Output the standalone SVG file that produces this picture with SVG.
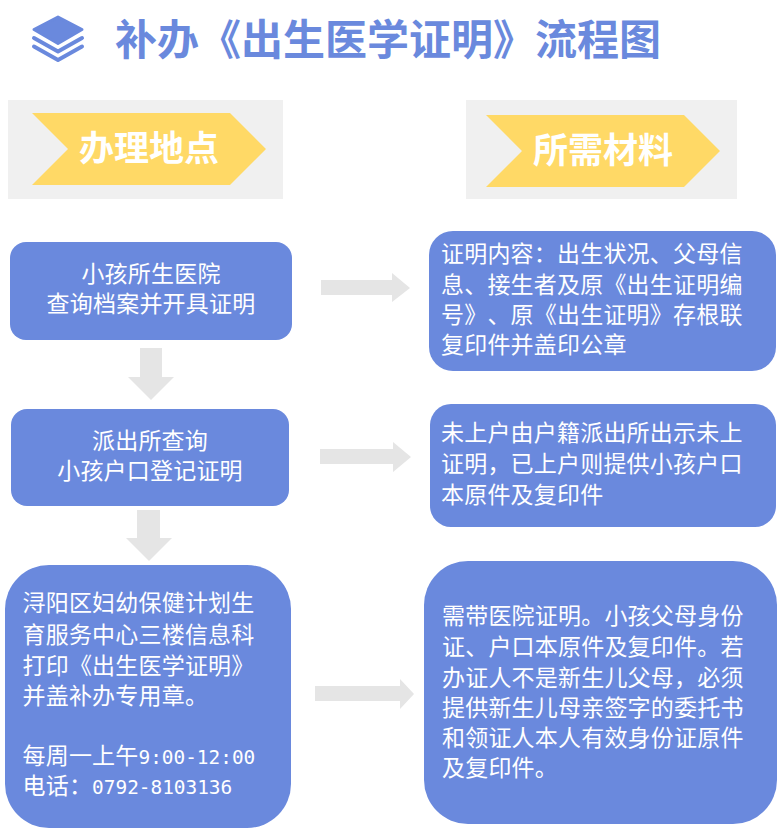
<svg xmlns="http://www.w3.org/2000/svg" width="782" height="834" viewBox="0 0 782 834">
<style>
text{font-family:"Noto Sans CJK SC","Noto Sans CJK JP",sans-serif;text-spacing-trim:space-all;font-kerning:none;}
.box{fill:#6a89dd;}
.t{font-size:23px;fill:#fff;letter-spacing:.2px;}
.c{text-anchor:middle;}
.d{font-family:"DejaVu Sans Mono",monospace;font-size:19.4px;letter-spacing:0;}
.h{font-size:35px;font-weight:700;fill:#fff;text-anchor:middle;}
.panel{fill:#f0f0f0;}
.tag{fill:#ffd966;}
.arrow{fill:#e5e5e5;}
.title{font-size:42px;font-weight:700;fill:#6a89dd;}
.icon{fill:#6a89dd;stroke:#6a89dd;stroke-width:3;stroke-linejoin:round;}
.band{fill:none;stroke:#6a89dd;stroke-width:4;stroke-linecap:round;stroke-linejoin:round;}
</style>
<g id="title">
<path class="icon" d="M58 17 L82 29.500 L58 43.500 L34 29.500Z"/>
<path class="band" d="M34 38 L58 51.500 L82 38"/>
<path class="band" d="M34 46.500 L58 60 L82 46.500"/>
<text class="title" x="115" y="55">补办《出生医学证明》流程图</text>
</g>
<g id="place-header">
<rect class="panel" x="8" y="100" width="275" height="99"/>
<polygon class="tag" points="32,113 230,113 266,149 230,185 32,185 68,149"/>
<text class="h" x="149" y="161">办理地点</text>
</g>
<g id="material-header">
<rect class="panel" x="466" y="100" width="271" height="99"/>
<polygon class="tag" points="486,115 684,115 720,151 684,187 486,187 522,151"/>
<text class="h" x="603" y="163">所需材料</text>
</g>
<g id="connectors">
<polygon class="arrow" points="321,280 392,280 392,273 410,288 392,302 392,295 321,295"/>
<polygon class="arrow" points="320,449 393,449 393,442 411,457 393,472 393,464 320,464"/>
<polygon class="arrow" points="315,686 400,686 400,679 414,694 400,709 400,701 315,701"/>
<polygon class="arrow" points="140,348 162,348 162,377 174,377 151,400 128,377 140,377"/>
<polygon class="arrow" points="137,510 160,510 160,538 172,538 149,561 126,538 137,538"/>
</g>
<g id="hospital">
<rect class="box" x="10" y="242" width="282" height="98" rx="16"/>
<text class="t c" x="151" y="282">小孩所生医院</text>
<text class="t c" x="151" y="312">查询档案并开具证明</text>
</g>
<g id="police">
<rect class="box" x="11" y="409" width="278" height="97" rx="16"/>
<text class="t c" x="150" y="449">派出所查询</text>
<text class="t c" x="150" y="479">小孩户口登记证明</text>
</g>
<g id="center">
<rect class="box" x="5" y="565" width="286" height="263" rx="44"/>
<text class="t" x="22.500" y="611">浔阳区妇幼保健计划生</text>
<text class="t" x="22.500" y="643">育服务中心三楼信息科</text>
<text class="t" x="22.500" y="674">打印《出生医学证明》</text>
<text class="t" x="22.500" y="704">并盖补办专用章。</text>
<text class="t" x="22.500" y="764">每周一上午<tspan class="d">9:00-12:00</tspan></text>
<text class="t" x="22.500" y="794">电话：<tspan class="d">0792-8103136</tspan></text>
</g>
<g id="material-hospital">
<rect class="box" x="429" y="231" width="347" height="140" rx="24"/>
<text class="t" x="441" y="262">证明内容：出生状况、父母信</text>
<text class="t" x="441" y="293">息、接生者及原《出生证明编</text>
<text class="t" x="441" y="323">号》、原《出生证明》存根联</text>
<text class="t" x="441" y="353">复印件并盖印公章</text>
</g>
<g id="material-police">
<rect class="box" x="430" y="404" width="346" height="123" rx="21"/>
<text class="t" x="441" y="441">未上户由户籍派出所出示未上</text>
<text class="t" x="441" y="472">证明，已上户则提供小孩户口</text>
<text class="t" x="441" y="503">本原件及复印件</text>
</g>
<g id="material-center">
<rect class="box" x="424" y="561" width="353" height="263" rx="44"/>
<text class="t" x="442" y="624">需带医院证明。小孩父母身份</text>
<text class="t" x="442" y="655">证、户口本原件及复印件。若</text>
<text class="t" x="442" y="686">办证人不是新生儿父母，必须</text>
<text class="t" x="442" y="716">提供新生儿母亲签字的委托书</text>
<text class="t" x="442" y="746">和领证人本人有效身份证原件</text>
<text class="t" x="442" y="776">及复印件。</text>
</g>
</svg>
